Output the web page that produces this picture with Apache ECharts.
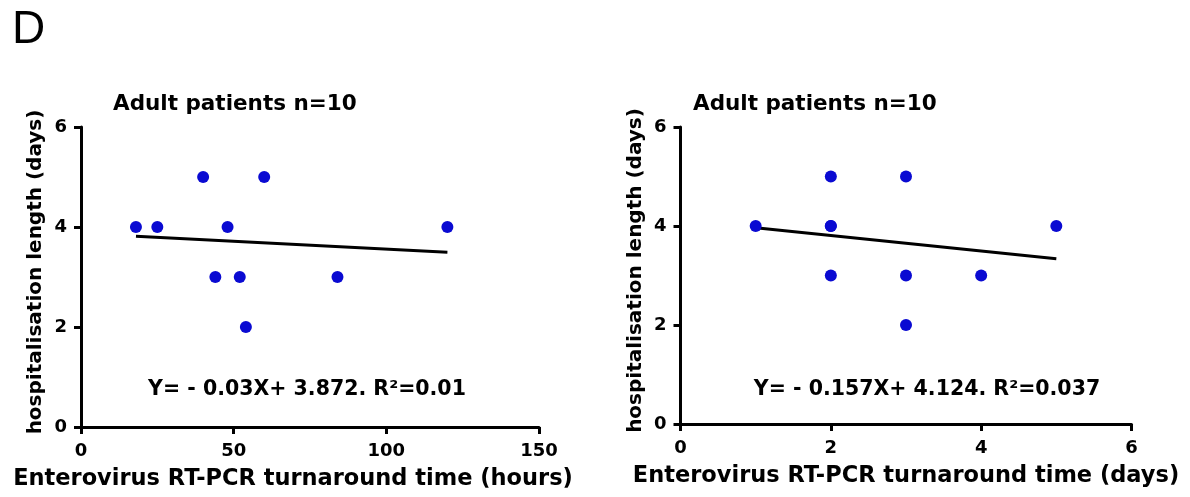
<!DOCTYPE html>
<html><head><meta charset="utf-8">
<script src="https://cdn.jsdelivr.net/npm/echarts@6/dist/echarts.min.js"></script>
<style>html,body{margin:0;padding:0;background:#fff}#c{width:1190px;height:497px}</style>
</head><body><div id="c"></div>
<script>
// ---- data ----
const panelLabel = 'D';
const chartTitles = ['Adult patients n=10', 'Adult patients n=10'];
const hoursX = [18, 25, 40, 44, 48, 52, 54, 60, 84, 120];
const hoursY = [4, 4, 5, 3, 4, 3, 2, 5, 3, 4];
const daysX = [1, 2, 2, 2, 2, 3, 3, 3, 4, 5];
const daysY = [4, 5, 4, 4, 3, 5, 3, 2, 3, 4];
const xTicksHours = [0, 50, 100, 150];
const xTicksDays = [0, 2, 4, 6];
const yTicks = [0, 2, 4, 6];
const equations = ['Y= - 0.03X+ 3.872. R\u00B2=0.01', 'Y= - 0.157X+ 4.124. R\u00B2=0.037'];
const xNames = ['Enterovirus RT-PCR turnaround time (hours)', 'Enterovirus RT-PCR turnaround time (days)'];
const yName = 'hospitalisation length (days)';

// ---- helpers ----
function fitLine(xs, ys) {
  const n = xs.length;
  const mx = xs.reduce((a, b) => a + b, 0) / n;
  const my = ys.reduce((a, b) => a + b, 0) / n;
  let sxy = 0, sxx = 0;
  for (let i = 0; i < n; i++) { sxy += (xs[i] - mx) * (ys[i] - my); sxx += (xs[i] - mx) ** 2; }
  const b = sxy / sxx, a = my - b * mx;
  const x0 = Math.min(...xs), x1 = Math.max(...xs);
  return [[x0, a + b * x0], [x1, a + b * x1]];
}
const pairs = (xs, ys) => xs.map((x, i) => [x, ys[i]]);

const FONT = 'DejaVu Sans';
const black = '#000';
const dotBlue = '#0a0ad2';
function xAxisCfg(idx, ticks, name, namePad) {
  return {
    gridIndex: idx, type: 'value',
    min: ticks[0], max: ticks[ticks.length - 1], interval: ticks[1] - ticks[0],
    name: name, nameLocation: 'middle', nameGap: 41,
    nameTextStyle: { color: black, fontFamily: FONT, fontWeight: 'bold', fontSize: 22.5, padding: namePad },
    axisLine: { show: true, onZero: false, lineStyle: { color: black, width: 3 } },
    axisTick: { show: true, inside: false, length: 7, lineStyle: { color: black, width: 3 } },
    splitLine: { show: false },
    axisLabel: { color: black, fontFamily: FONT, fontWeight: 'bold', fontSize: 18, margin: 15 }
  };
}
function yAxisCfg(idx) {
  return {
    gridIndex: idx, type: 'value',
    min: yTicks[0], max: yTicks[yTicks.length - 1], interval: yTicks[1] - yTicks[0],
    name: yName, nameLocation: 'middle', nameGap: 35, nameRotate: 90,
    nameTextStyle: { color: black, fontFamily: FONT, fontWeight: 'bold', fontSize: 20, padding: [0, 0, 0, 10] },
    axisLine: { show: true, onZero: false, lineStyle: { color: black, width: 3 } },
    axisTick: { show: true, inside: false, length: 7, lineStyle: { color: black, width: 3 } },
    splitLine: { show: false },
    axisLabel: { color: black, fontFamily: FONT, fontWeight: 'bold', fontSize: 18, margin: 14 }
  };
}
function txt(x, y, text, font, align) {
  return { type: 'text', x: x, y: y, silent: true,
    style: { text: text, fill: black, font: font, align: align, verticalAlign: 'middle',
             textAlign: align, textVerticalAlign: 'middle' } };
}

const chart = echarts.init(document.getElementById('c'), null, { renderer: 'canvas' });
chart.setOption({
  animation: false,
  backgroundColor: '#fff',
  grid: [
    { left: 81, top: 127, width: 458, height: 300 },
    { left: 680.5, top: 127, width: 451, height: 297 }
  ],
  xAxis: [xAxisCfg(0, xTicksHours, xNames[0], [0, 34, 0, 0]), xAxisCfg(1, xTicksDays, xNames[1], 0)],
  yAxis: [yAxisCfg(0), yAxisCfg(1)],
  series: [
    { type: 'line', xAxisIndex: 0, yAxisIndex: 0, data: fitLine(hoursX, hoursY), showSymbol: false, silent: true,
      lineStyle: { color: black, width: 3 }, z: 2 },
    { type: 'scatter', xAxisIndex: 0, yAxisIndex: 0, data: pairs(hoursX, hoursY), symbol: 'circle', symbolSize: 12,
      itemStyle: { color: dotBlue, opacity: 1 }, z: 3 },
    { type: 'line', xAxisIndex: 1, yAxisIndex: 1, data: fitLine(daysX, daysY), showSymbol: false, silent: true,
      lineStyle: { color: black, width: 3 }, z: 2 },
    { type: 'scatter', xAxisIndex: 1, yAxisIndex: 1, data: pairs(daysX, daysY), symbol: 'circle', symbolSize: 12,
      itemStyle: { color: dotBlue, opacity: 1 }, z: 3 }
  ],
  graphic: [
    txt(12, 30, panelLabel, '46px "Liberation Sans"', 'left'),
    txt(113, 104, chartTitles[0], 'bold 21.5px "DejaVu Sans"', 'left'),
    txt(693, 104, chartTitles[1], 'bold 21.5px "DejaVu Sans"', 'left'),
    txt(307, 390, equations[0], 'bold 20.5px "DejaVu Sans"', 'center'),
    txt(927, 390, equations[1], 'bold 20.5px "DejaVu Sans"', 'center')
  ]
});
</script></body></html>
